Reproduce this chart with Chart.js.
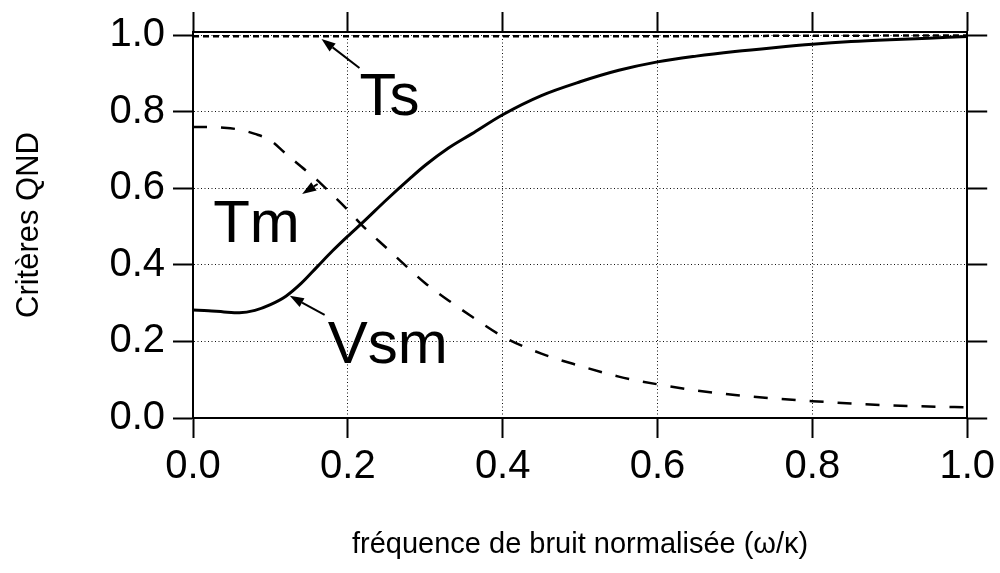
<!DOCTYPE html>
<html>
<head>
<meta charset="utf-8">
<script src="https://cdn.jsdelivr.net/npm/chart.js@4/dist/chart.umd.min.js"></script>
<style>
  html, body { margin: 0; padding: 0; background: #ffffff; }
  #c { display: block; }
</style>
</head>
<body>
<canvas id="c" width="1000" height="573"></canvas>
<script>
// ---- data ----
const freq = [0, 0.02, 0.04, 0.06, 0.08, 0.10, 0.12, 0.14, 0.16, 0.18, 0.20, 0.22, 0.25, 0.28, 0.30, 0.33, 0.36, 0.40, 0.45, 0.50, 0.55, 0.60, 0.65, 0.70, 0.75, 0.80, 0.85, 0.90, 0.95, 1.00];
const vsm  = [0.282, 0.280, 0.277, 0.275, 0.281, 0.296, 0.318, 0.352, 0.394, 0.436, 0.475, 0.512, 0.570, 0.625, 0.660, 0.705, 0.742, 0.792, 0.842, 0.878, 0.908, 0.930, 0.945, 0.957, 0.967, 0.976, 0.983, 0.988, 0.992, 0.996];
const tm   = [0.760, 0.760, 0.758, 0.753, 0.742, 0.725, 0.690, 0.656, 0.622, 0.583, 0.543, 0.500, 0.444, 0.388, 0.352, 0.307, 0.265, 0.213, 0.168, 0.136, 0.108, 0.088, 0.072, 0.060, 0.051, 0.044, 0.038, 0.033, 0.030, 0.028];
const ts   = [0.997, 0.997, 0.997, 0.997, 0.997, 0.997, 0.997, 0.997, 0.997, 0.997, 0.997, 0.997, 0.997, 0.997, 0.997, 0.997, 0.997, 0.997, 0.997, 0.997, 0.997, 0.997, 0.997, 0.997, 0.998, 0.998, 0.998, 0.999, 0.999, 0.999];
const xTicks = [0.0, 0.2, 0.4, 0.6, 0.8, 1.0];
const yTicks = [0.0, 0.2, 0.4, 0.6, 0.8, 1.0];
const seriesNames = ['Vsm', 'Tm', 'Ts'];
const xTitle = 'fréquence de bruit normalisée (ω/κ)';
const yTitle = 'Critères QND';

// annotation labels (text + anchor in data units) and arrows (tail -> head in data units)
const labelTexts = ['Ts', 'Tm', 'Vsm'];
const labelAnchors = [[0.215, 0.791], [0.026, 0.460], [0.174, 0.144]];
const arrowTails = [[0.215, 0.914], [0.161, 0.611], [0.170, 0.269]];
const arrowHeads = [[0.166, 0.990], [0.141, 0.585], [0.125, 0.319]];

const pts = (ys) => freq.map((x, i) => ({ x: x, y: ys[i] }));

const FONT = '"Liberation Sans", Arial, Helvetica, sans-serif';

const annotPlugin = {
  id: 'annot',
  afterDatasetsDraw(chart) {
    const ctx = chart.ctx;
    const xs = chart.scales.x, ys = chart.scales.y;
    ctx.save();
    ctx.fillStyle = '#000';
    ctx.strokeStyle = '#000';
    ctx.font = '60px ' + FONT;
    ctx.textAlign = 'left';
    ctx.textBaseline = 'alphabetic';
    labelTexts.forEach((t, i) => {
      ctx.fillText(t, xs.getPixelForValue(labelAnchors[i][0]), ys.getPixelForValue(labelAnchors[i][1]));
    });
    ctx.lineWidth = 2;
    arrowTails.forEach((tail, i) => {
      const x1 = xs.getPixelForValue(tail[0]), y1 = ys.getPixelForValue(tail[1]);
      const x2 = xs.getPixelForValue(arrowHeads[i][0]), y2 = ys.getPixelForValue(arrowHeads[i][1]);
      const ang = Math.atan2(y2 - y1, x2 - x1);
      const L = 14, W = 5;
      const bx = x2 - L * Math.cos(ang), by = y2 - L * Math.sin(ang);
      ctx.beginPath(); ctx.moveTo(x1, y1); ctx.lineTo(bx, by); ctx.stroke();
      ctx.beginPath();
      ctx.moveTo(x2, y2);
      ctx.lineTo(bx + W * Math.sin(ang), by - W * Math.cos(ang));
      ctx.lineTo(bx - W * Math.sin(ang), by + W * Math.cos(ang));
      ctx.closePath(); ctx.fill();
    });
    ctx.restore();
  }
};

const gridCommon = {
  color: '#111',
  lineWidth: 1,
  tickLength: 20,
  tickWidth: 2,
  tickColor: '#000',
  tickBorderDash: []
};

new Chart(document.getElementById('c'), {
  type: 'line',
  data: {
    datasets: [
      { label: seriesNames[0], data: pts(vsm), borderColor: '#000', borderWidth: 3, pointRadius: 0, cubicInterpolationMode: 'monotone', fill: false },
      { label: seriesNames[1], data: pts(tm), borderColor: '#000', borderWidth: 2.5, borderDash: [14, 14], pointRadius: 0, cubicInterpolationMode: 'monotone', fill: false },
      { label: seriesNames[2], data: pts(ts), borderColor: '#000', borderWidth: 2.5, borderDash: [6, 4], pointRadius: 0, cubicInterpolationMode: 'monotone', fill: false }
    ]
  },
  options: {
    responsive: false,
    animation: false,
    devicePixelRatio: 1,
    layout: { padding: 0 },
    plugins: { legend: { display: false }, tooltip: { enabled: false } },
    scales: {
      x: {
        type: 'linear', position: 'bottom', min: 0, max: 1.0,
        afterBuildTicks: (s) => { s.ticks = xTicks.map(v => ({ value: v })); },
        afterFit: (s) => { s.height = 155; },
        grid: Object.assign({ drawOnChartArea: true, drawTicks: true }, gridCommon),
        border: { display: true, color: '#000', width: 2, dash: [1, 2.5] },
        ticks: { color: '#000', font: { family: FONT, size: 40 }, padding: 5, maxRotation: 0, autoSkip: false, callback: (v) => Number(v).toFixed(1) },
        title: { display: true, text: xTitle, color: '#000', font: { family: FONT, size: 29 }, padding: { top: 0, bottom: 11 } }
      },
      x2: {
        type: 'linear', position: 'top', min: 0, max: 1.0,
        afterBuildTicks: (s) => { s.ticks = xTicks.map(v => ({ value: v })); },
        afterFit: (s) => { s.height = 32; },
        grid: Object.assign({ drawOnChartArea: false, drawTicks: true }, gridCommon),
        border: { display: true, color: '#000', width: 2 },
        ticks: { display: false }
      },
      y: {
        type: 'linear', position: 'left', min: 0, max: 1.008,
        afterBuildTicks: (s) => { s.ticks = yTicks.map(v => ({ value: v })); },
        afterFit: (s) => { s.width = 193; },
        grid: Object.assign({ drawOnChartArea: true, drawTicks: true }, gridCommon),
        border: { display: true, color: '#000', width: 2, dash: [1, 2.5] },
        ticks: { color: '#000', font: { family: FONT, size: 40 }, padding: 8, callback: (v) => Number(v).toFixed(1) },
        title: { display: true, text: yTitle, color: '#000', font: { family: FONT, size: 31 }, padding: { top: 11, bottom: 0 } }
      },
      y2: {
        type: 'linear', position: 'right', min: 0, max: 1.008,
        afterBuildTicks: (s) => { s.ticks = yTicks.map(v => ({ value: v })); },
        afterFit: (s) => { s.width = 30; },
        grid: Object.assign({ drawOnChartArea: false, drawTicks: true }, gridCommon),
        border: { display: true, color: '#000', width: 2 },
        ticks: { display: false }
      }
    }
  },
  plugins: [annotPlugin]
});
</script>
</body>
</html>
